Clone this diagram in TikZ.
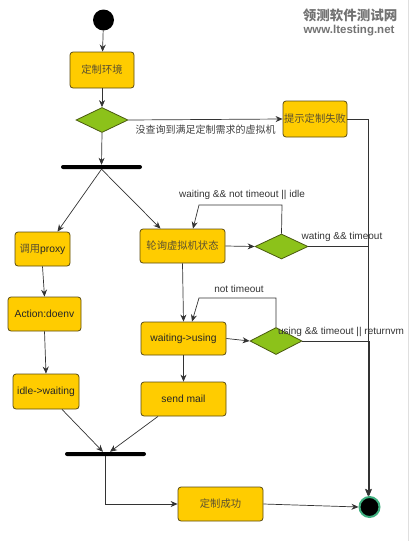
\documentclass[tikz,border=0pt]{standalone}
\usepackage{fontspec}
\setmainfont{Liberation Sans}
\newfontfamily\cjk{Noto Sans CJK SC}
\usetikzlibrary{shapes.geometric,arrows.meta}
\definecolor{boxfill}{HTML}{FFCC00}
\definecolor{boxline}{HTML}{5A4A10}
\definecolor{dfill}{HTML}{8CC21A}
\definecolor{dline}{HTML}{4A5A10}
\definecolor{ringc}{HTML}{3FAF7F}
\definecolor{linec}{HTML}{333333}
\definecolor{cjktext}{HTML}{5A5030}
\tikzset{
  actbox/.style={draw=boxline,line width=0.8pt,fill=boxfill,rounded corners=3pt,inner sep=0pt,font=\fontsize{10.3}{12}\selectfont,text=black!85},
  decis/.style={diamond,draw=dline,line width=0.8pt,fill=dfill,inner sep=0pt},
  bar/.style={fill=black,rounded corners=2pt,inner sep=0pt,minimum height=4pt},
  conn/.style={draw=linec,line width=0.7pt},
  arr/.style={conn,-{Stealth[length=7pt,width=6pt]}},
  lbl/.style={font=\fontsize{10}{11}\selectfont,text=black!80,inner sep=0pt},
}
\begin{document}
\begin{tikzpicture}[x=1pt,y=-1pt]
\useasboundingbox (0,0) rectangle (411,541);
\draw[gray!25,line width=0.8pt] (408,0) -- (408,541);
% watermark
\node[font=\cjk\bfseries\fontsize{13.5}{14}\selectfont,text=black!55,inner sep=0pt] (wm1) at (350,15) {领测软件测试网};
\node[font=\bfseries\fontsize{11.5}{12}\selectfont,text=black!55,inner sep=0pt] (wm2) at (349,31) {www.ltesting.net};
% nodes
\node[circle,fill=black,minimum size=21pt,inner sep=0pt] (start) at (103.5,20) {};
\node[actbox,minimum width=64pt,minimum height=36pt] (env) at (102,70) {\cjk\color{cjktext}定制环境};
\node[decis,minimum width=52pt,minimum height=25pt] (d1) at (102,120) {};
\node[actbox,minimum width=64pt,minimum height=36pt] (fail) at (315,119) {\cjk\color{cjktext}提示定制失败};
\node[bar,minimum width=81pt] (bar1) at (101.5,167) {};
\node[actbox,minimum width=55pt,minimum height=34pt] (proxy) at (42.5,249) {{\cjk\color{cjktext}调用}proxy};
\node[actbox,minimum width=85pt,minimum height=34pt] (poll) at (182.5,246) {\cjk\color{cjktext}轮询虚拟机状态};
\node[decis,minimum width=53pt,minimum height=25pt] (d2) at (281.5,246.5) {};
\node[actbox,minimum width=73pt,minimum height=34pt] (doenv) at (44.5,314) {Action:doenv};
\node[actbox,minimum width=85pt,minimum height=33pt] (wu) at (183.5,338.5) {waiting->using};
\node[decis,minimum width=52pt,minimum height=27pt] (d3) at (276,341) {};
\node[actbox,minimum width=66pt,minimum height=35pt] (idle) at (46,391.5) {idle->waiting};
\node[actbox,minimum width=85pt,minimum height=34pt] (mail) at (183.5,399) {send mail};
\node[bar,minimum width=81pt] (bar2) at (105.5,454) {};
\node[actbox,minimum width=85pt,minimum height=34pt] (succ) at (220.5,504) {\cjk\color{cjktext}定制成功};
\node[circle,fill=black,draw=ringc,line width=2pt,minimum size=20pt,inner sep=0pt] (final) at (369.5,507) {};
% connectors
\draw[arr] (start) -- (env);
\draw[arr] (env) -- (d1);
\draw[arr] (d1.south) -- (bar1.north);
\draw[arr] (d1.east) -- node[below=5pt,font=\cjk\fontsize{10}{11}\selectfont,text=black!75,inner sep=0pt] (lab1) {没查询到满足定制需求的虚拟机} (fail.west);
\draw[arr] (fail.east) -| ([xshift=-1.5pt]final.north);
\draw[arr] (bar1.south) -- ([xshift=15pt]proxy.north);
\draw[arr] (bar1.south) -- ([xshift=-22pt]poll.north);
\draw[arr] (poll.east) -- (d2.west);
\coordinate (l2a) at (282,205);
\coordinate (l2b) at (199,205);
\draw[arr] (d2.north) -- (l2a) -- (l2b) -- ([xshift=10.5pt]poll.north);
\node[lbl] (lab2) at (242,195) {waiting \&\& not timeout || idle};
\draw[arr] (d2.east) -| ([xshift=-1pt]final.north);
\node[lbl] (lab3) at (342,237) {wating \&\& timeout};
\draw[arr] (poll.south) -- (wu.north);
\draw[arr] (wu.east) -- (d3.west);
\coordinate (l3a) at (276,298);
\coordinate (l3b) at (199,298);
\draw[arr] (d3.north) -- (l3a) -- (l3b) -- ([xshift=8.5pt]wu.north);
\node[lbl] (lab4) at (239,289) {not timeout};
\draw[arr] (d3.east) -| ([xshift=-0.5pt]final.north);
\node[lbl] (lab5) at (341,332) {using \&\& timeout || returnvm};
\draw[arr] (proxy.south) -- (doenv.north);
\draw[arr] (doenv.south) -- (idle.north);
\draw[arr] (wu.south) -- (mail.north);
\draw[arr] ([xshift=16pt]idle.south) -- ([xshift=-2.5pt]bar2.north);
\draw[arr] ([xshift=-25.5pt]mail.south) -- ([xshift=4.5pt]bar2.north);
\draw[arr] (bar2.south) |- (succ.west);
\draw[arr] (succ.east) -- (final.west);
\end{tikzpicture}
\end{document}
